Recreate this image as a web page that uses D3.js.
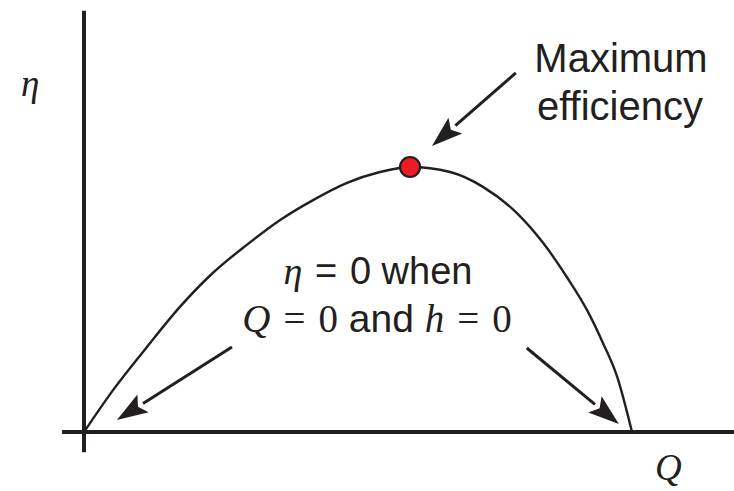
<!DOCTYPE html>
<html>
<head>
<meta charset="utf-8">
<script src="https://cdn.jsdelivr.net/npm/d3@7"></script>
<style>
    body { margin: 0; background: #fff; }
    svg { display: block; }
</style>
</head>
<body>
<script>
// Efficiency curve: eta against flow rate Q (both relative, 0..1)
var qValues = [0, 0.053, 0.115, 0.175, 0.235, 0.297, 0.358, 0.418, 0.48,
    0.54, 0.595, 0.668, 0.728, 0.79, 0.838, 0.881, 0.918, 0.947, 0.973, 1];
var etaValues = [0, 0.158, 0.321, 0.472, 0.6, 0.706, 0.8, 0.875, 0.94,
    0.981, 1, 0.981, 0.925, 0.826, 0.713, 0.585, 0.46, 0.336, 0.208, 0];

// point of best efficiency
var peakQ = [0.595];
var peakEta = [1];

// arrows as [tailQ, tailEta, tipQ, tipEta]
var arrows = [
    [0.788, 1.355, 0.635, 1.079],
    [0.270, 0.321, 0.060, 0.045],
    [0.808, 0.317, 0.976, 0.030]
];

var width = 734, height = 491;
var ink = "#231f20";

var svg = d3.select("body").append("svg")
    .attr("width", width)
    .attr("height", height);

var xScale = d3.scaleLinear().domain([0, 1]).range([84, 632]);
var yScale = d3.scaleLinear().domain([0, 1]).range([432, 167]);

var data = qValues.map(function (q, i) {
    return {q: q, eta: etaValues[i]};
});

// axes: plain heavy lines, no ticks
svg.append("line")
    .attr("x1", xScale(-0.04)).attr("x2", width)
    .attr("y1", yScale(0)).attr("y2", yScale(0))
    .attr("stroke", ink).attr("stroke-width", 4);
svg.append("line")
    .attr("x1", xScale(0)).attr("x2", xScale(0))
    .attr("y1", yScale(1.59)).attr("y2", yScale(-0.076))
    .attr("stroke", ink).attr("stroke-width", 4);

// efficiency curve
var line = d3.line()
    .x(function (d) { return xScale(d.q); })
    .y(function (d) { return yScale(d.eta); })
    .curve(d3.curveMonotoneX);

svg.append("path")
    .datum(data)
    .attr("d", line)
    .attr("fill", "none")
    .attr("stroke", ink)
    .attr("stroke-width", 2.4);

// arrows with filled heads
var headLen = 31, headHalf = 10.5;
arrows.forEach(function (a) {
    var x0 = xScale(a[0]), y0 = yScale(a[1]);
    var x1 = xScale(a[2]), y1 = yScale(a[3]);
    var ang = Math.atan2(y1 - y0, x1 - x0);
    var bx = x1 - headLen * Math.cos(ang), by = y1 - headLen * Math.sin(ang);
    svg.append("line")
        .attr("x1", x0).attr("y1", y0)
        .attr("x2", bx).attr("y2", by)
        .attr("stroke", ink).attr("stroke-width", 3);
    var nx = -Math.sin(ang) * headHalf, ny = Math.cos(ang) * headHalf;
    svg.append("path")
        .attr("d", "M" + x1 + "," + y1 +
            "L" + (bx + nx) + "," + (by + ny) +
            "L" + (bx + 6 * Math.cos(ang)) + "," + (by + 6 * Math.sin(ang)) +
            "L" + (bx - nx) + "," + (by - ny) + "Z")
        .attr("fill", ink);
});

// maximum point
svg.selectAll("circle.peak")
    .data(peakQ)
    .enter()
    .append("circle")
    .attr("class", "peak")
    .attr("cx", function (d) { return xScale(d); })
    .attr("cy", function (d, i) { return yScale(peakEta[i]); })
    .attr("r", 10)
    .attr("fill", "#ed1c24")
    .attr("stroke", ink)
    .attr("stroke-width", 2.2);

var sans = "'Liberation Sans', Arial, Helvetica, sans-serif";
var serif = "'Liberation Serif', 'Times New Roman', serif";

// axis labels
svg.append("text")
    .attr("x", 21).attr("y", 96)
    .attr("font-family", serif).attr("font-style", "italic")
    .attr("font-size", 37).attr("fill", ink)
    .text("\u03b7");
svg.append("text")
    .attr("x", 655).attr("y", 480)
    .attr("font-family", serif).attr("font-style", "italic")
    .attr("font-size", 37).attr("fill", ink)
    .text("Q");

// "Maximum efficiency" callout
svg.append("text")
    .attr("x", 621).attr("y", 72)
    .attr("text-anchor", "middle")
    .attr("font-family", sans).attr("font-size", 40).attr("fill", ink)
    .text("Maximum");
svg.append("text")
    .attr("x", 620).attr("y", 120)
    .attr("text-anchor", "middle")
    .attr("font-family", sans).attr("font-size", 40).attr("fill", ink)
    .text("efficiency");

// "eta = 0 when Q = 0 and h = 0" note
var sp = "\u2004";
var note1 = svg.append("text")
    .attr("x", 378).attr("y", 284)
    .attr("text-anchor", "middle")
    .attr("font-size", 38).attr("fill", ink);
note1.append("tspan").attr("font-family", serif).attr("font-style", "italic")
    .text("\u03b7");
note1.append("tspan").attr("font-family", sans).text(sp + "=" + sp + "0 when");

var note2 = svg.append("text")
    .attr("x", 377).attr("y", 332)
    .attr("text-anchor", "middle")
    .attr("font-size", 39).attr("fill", ink);
note2.append("tspan").attr("font-family", serif).attr("font-style", "italic")
    .text("Q");
note2.append("tspan").attr("font-family", serif).text(sp + "=" + sp + "0");
note2.append("tspan").attr("font-family", sans).text(" and ");
note2.append("tspan").attr("font-family", serif).attr("font-style", "italic")
    .text("h");
note2.append("tspan").attr("font-family", serif).text(sp + "=" + sp + "0");
</script>
</body>
</html>
